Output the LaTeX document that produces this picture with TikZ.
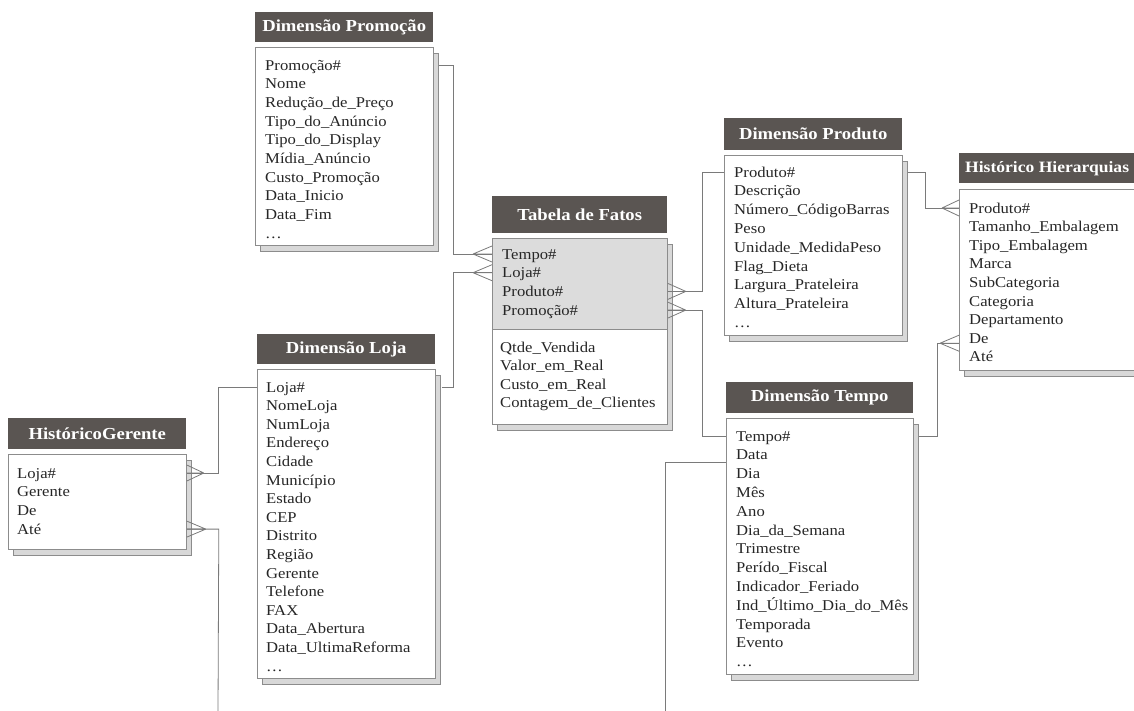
\documentclass[tikz,border=0pt]{standalone}
\usepackage{fontspec}
\setmainfont{Liberation Serif}[FakeStretch=1.11]
\usetikzlibrary{calc,shadows}

\definecolor{hdrgray}{HTML}{5A5552}
\definecolor{keygray}{HTML}{DCDCDC}
\definecolor{shadowgray}{HTML}{D8D8D8}
\definecolor{edgegray}{HTML}{8C8C8C}
\definecolor{linegray}{HTML}{7A7A7A}

\newcommand{\rowfont}{\fontsize{15}{18}\selectfont}
\newcommand{\hdrfont}{\bfseries\fontsize{16.8}{20}\selectfont}
\newcommand{\narrowhdrfont}{\bfseries\fontsize{15.8}{20}\selectfont}

\tikzset{
  hdr/.style={fill=hdrgray, text=white, font=\hdrfont, anchor=north west, inner sep=0pt},
  tbody/.style={draw=edgegray, fill=white, anchor=north west, inner sep=0pt, line width=0.8pt,
    copy shadow={shadow xshift=5pt, shadow yshift=-6pt, fill=shadowgray, draw=edgegray}},
  keysec/.style={draw=edgegray, fill=keygray, anchor=north west, inner sep=0pt, line width=0.8pt},
  rowtxt/.style={font=\rowfont, text=black!85, anchor=base west, inner sep=0pt,
    text height=10pt, text depth=0pt},
  conn/.style={draw=linegray, line width=0.8pt},
}

% one text node per attribute row: prefix, left x, first baseline, row step, entries
\newcommand{\tablerows}[5]{%
  \foreach \t [count=\i from 0] in {#5}
    \node[rowtxt] (#1-\i) at (#2, {#3+\i*#4}) {\t};}

% crow's foot: edge point, signed offset of the apex
\newcommand{\crowfoot}[2]{%
  \draw[conn] ($(#1)+(#2,0)$) -- ($(#1)+(0,-8)$)
              ($(#1)+(#2,0)$) -- (#1)
              ($(#1)+(#2,0)$) -- ($(#1)+(0,8)$);}

\begin{document}
\begin{tikzpicture}[x=1pt, y=-1pt]
\useasboundingbox (0,0) rectangle (1134,710);
\clip (0,0) rectangle (1134,710);

% ---- Dimensão Promoção
\node[hdr, minimum width=178pt, minimum height=30pt] (promoH) at (255,12) {Dimensão Promoção};
\node[tbody, minimum width=178pt, minimum height=198pt] (promo) at (255,47) {};
\tablerows{promo}{265}{70}{18.7}{Promoção\#, Nome, Redução\_de\_Preço, Tipo\_do\_Anúncio,
  Tipo\_do\_Display, Mídia\_Anúncio, Custo\_Promoção, Data\_Inicio, Data\_Fim, \dots}

% ---- Tabela de Fatos
\node[hdr, minimum width=175pt, minimum height=37pt] (factH) at (492,196) {Tabela de Fatos};
\node[tbody, minimum width=175pt, minimum height=186pt] (fact) at (492,238) {};
\node[keysec, minimum width=175pt, minimum height=91pt] (factK) at (fact.north west) {};
\tablerows{fact}{502}{259}{18.7}{Tempo\#, Loja\#, Produto\#, Promoção\#}
\tablerows{meas}{500}{352}{18.5}{Qtde\_Vendida, Valor\_em\_Real, Custo\_em\_Real,
  Contagem\_de\_Clientes}

% ---- Dimensão Produto
\node[hdr, minimum width=178pt, minimum height=32pt] (prodH) at (724,118) {Dimensão Produto};
\node[tbody, minimum width=178pt, minimum height=180pt] (prod) at (724,155) {};
\tablerows{prod}{734}{177}{18.8}{Produto\#, Descrição, Número\_CódigoBarras, Peso,
  Unidade\_MedidaPeso, Flag\_Dieta, Largura\_Prateleira, Altura\_Prateleira, \dots}

% ---- Histórico Hierarquias (runs past the right edge)
\node[hdr, minimum width=190pt, minimum height=30pt] (hierH) at (959,153) {};
\node[font=\narrowhdrfont, text=white, inner sep=0pt, anchor=west] (hierT) at ($(hierH.west)+(6,0)$)
  {Histórico Hierarquias};
\node[tbody, minimum width=190pt, minimum height=181pt] (hier) at (959,189) {};
\tablerows{hier}{969}{213}{18.6}{Produto\#, Tamanho\_Embalagem, Tipo\_Embalagem, Marca,
  SubCategoria, Categoria, Departamento, De, Até}

% ---- HistóricoGerente
\node[hdr, minimum width=178pt, minimum height=31pt] (gerH) at (8,418) {HistóricoGerente};
\node[tbody, minimum width=178pt, minimum height=95pt] (ger) at (8,454) {};
\tablerows{ger}{17}{478}{18.7}{Loja\#, Gerente, De, Até}

% ---- Dimensão Loja
\node[hdr, minimum width=178pt, minimum height=30pt] (lojaH) at (257,334) {Dimensão Loja};
\node[tbody, minimum width=178pt, minimum height=309pt] (loja) at (257,369) {};
\tablerows{loja}{266}{392}{18.6}{Loja\#, NomeLoja, NumLoja, Endereço, Cidade, Município,
  Estado, CEP, Distrito, Região, Gerente, Telefone, FAX, Data\_Abertura,
  Data\_UltimaReforma, \dots}

% ---- Dimensão Tempo
\node[hdr, minimum width=187pt, minimum height=31pt] (tempoH) at (726,382) {Dimensão Tempo};
\node[tbody, minimum width=187pt, minimum height=256pt] (tempo) at (726,418) {};
\tablerows{tempo}{736}{441}{18.8}{Tempo\#, Data, Dia, Mês, Ano, Dia\_da\_Semana, Trimestre,
  Perído\_Fiscal, Indicador\_Feriado, Ind\_Último\_Dia\_do\_Mês, Temporada, Evento, \dots}

% ---- connector end points
\coordinate (fL0) at (fact.west |- fact-0);
\coordinate (fL1) at (fact.west |- fact-1);
\coordinate (fR2) at (fact.east |- fact-2);
\coordinate (fR3) at (fact.east |- fact-3);
\coordinate (pR0) at ($(promo.east |- promo-0)+(5,0)$);
\coordinate (lR0) at ($(loja.east |- loja-0)+(6,0)$);
\coordinate (dR0) at ($(prod.east |- prod-0)+(5,0)$);
\coordinate (tR0) at ($(tempo.east |- tempo-0)+(5,0)$);
\coordinate (tL1) at ($(tempo.west |- tempo-1)+(0,8)$);
\coordinate (hL0) at (hier.west |- hier-0);
\coordinate (hL7) at ($(hier.west |- hier-7)+(0,5)$);
\coordinate (gR0) at (ger.east |- ger-0);
\coordinate (gR3) at (ger.east |- ger-3);
\coordinate (gDown) at (218,712);
\coordinate (tDown) at (665,712);

% ---- relationships
\draw[conn] (pR0) -| ($(fL0)+(-39,0)$) -- (fL0);
\crowfoot{fL0}{-19}
\draw[conn] (lR0) -| ($(fL1)+(-39,0)$) -- (fL1);
\crowfoot{fL1}{-19}
\draw[conn] (fR2) -- ($(fR2)+(35,0)$) |- (prod.west |- prod-0);
\crowfoot{fR2}{18}
\draw[conn] (fR3) -- ($(fR3)+(35,0)$) |- (tempo.west |- tempo-0);
\crowfoot{fR3}{18}
\draw[conn] (dR0) -| ($(hL0)+(-34,0)$) -- (hL0);
\crowfoot{hL0}{-17}
\draw[conn] (hL7) -- ($(hL7)+(-22,0)$) |- (tR0);
\crowfoot{hL7}{-19}
\draw[conn] (gR0) -- ($(gR0)+(32,0)$) |- (loja.west |- loja-0);
\crowfoot{gR0}{17}
\draw[conn] (gR3) -- ($(gR3)+(32,0)$) -- (gDown);
\crowfoot{gR3}{19}
\draw[conn] (tL1) -| (tDown);
\end{tikzpicture}
\end{document}
